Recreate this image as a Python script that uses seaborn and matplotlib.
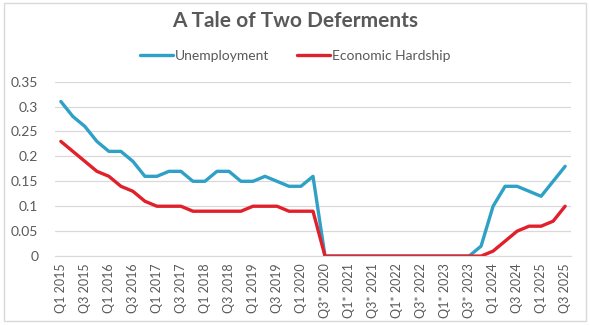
import numpy as np
import pandas as pd
import seaborn as sns
import matplotlib.pyplot as plt
from matplotlib.patches import Rectangle

# quarters Q1 2015 .. Q3 2025 ; * marks the pause period
quarters = []
for yr in range(2015, 2026):
    for q in range(1, 5):
        if yr == 2025 and q > 3:
            break
        star = "*" if (yr == 2020 and q >= 3) or yr in (2021, 2022) or (yr == 2023) else ""
        quarters.append(f"Q{q}{star} {yr}")

unemployment = [0.31, 0.28, 0.26, 0.23, 0.21, 0.21, 0.19, 0.16,
                0.16, 0.17, 0.17, 0.15, 0.15, 0.17, 0.17, 0.15,
                0.15, 0.16, 0.15, 0.14, 0.14, 0.16, 0, 0,
                0, 0, 0, 0, 0, 0, 0, 0,
                0, 0, 0, 0.02, 0.10, 0.14, 0.14, 0.13,
                0.12, 0.15, 0.18]
hardship = [0.23, 0.21, 0.19, 0.17, 0.16, 0.14, 0.13, 0.11,
            0.10, 0.10, 0.10, 0.09, 0.09, 0.09, 0.09, 0.09,
            0.10, 0.10, 0.10, 0.09, 0.09, 0.09, 0, 0,
            0, 0, 0, 0, 0, 0, 0, 0,
            0, 0, 0, 0, 0.01, 0.03, 0.05, 0.06,
            0.06, 0.07, 0.10]

n = len(quarters)
df = pd.DataFrame({
    "idx": list(range(n)) * 2,
    "value": unemployment + hardship,
    "series": ["Unemployment"] * n + ["Economic Hardship"] * n,
})

sns.set_style("white")
plt.rcParams['font.family'] = ['Lato', 'DejaVu Sans']

fig = plt.figure(figsize=(5.9, 3.25), dpi=100)
ax = fig.add_axes([0.093, 0.212, 0.875, 0.537])

sns.lineplot(data=df, x="idx", y="value", hue="series",
             palette={"Unemployment": "#2FA0C6", "Economic Hardship": "#E0202B"},
             linewidth=2.4, ax=ax)

ax.set_xlim(-0.5, n - 0.5)
ax.set_ylim(0, 0.35)
ax.set_yticks([0, 0.05, 0.1, 0.15, 0.2, 0.25, 0.3, 0.35])
ax.set_yticklabels(["0", "0.05", "0.1", "0.15", "0.2", "0.25", "0.3", "0.35"],
                   fontsize=10, color="#595959")
ax.set_xticks(range(0, n, 2))
ax.set_xticklabels(quarters[::2], rotation=90, fontsize=9, color="#595959")
ax.tick_params(axis="x", length=0, pad=5)
ax.tick_params(axis="y", length=0, pad=12)
ax.grid(axis="y", color="#D9D9D9", linewidth=0.9)
ax.set_axisbelow(True)
for s in ["top", "right", "left"]:
    ax.spines[s].set_visible(False)
ax.spines["bottom"].set_color("#D9D9D9")
ax.set_xlabel("")
ax.set_ylabel("")

ax.legend(loc="center", bbox_to_anchor=(0.5, 0.827), bbox_transform=fig.transFigure,
          ncol=2, frameon=False, fontsize=10, handlelength=2.4, handletextpad=0.1,
          columnspacing=2.0, labelcolor="#595959")

fig.text(0.5, 0.935, "A Tale of Two Deferments", ha="center", va="center",
         fontsize=15, fontweight="bold", color="#595959")

fig.patches.append(Rectangle((0.006, 0.012), 0.988, 0.978, transform=fig.transFigure,
                             fill=False, edgecolor="#D9D9D9", linewidth=1))

fig.savefig("out.png", dpi=100, facecolor="white")
